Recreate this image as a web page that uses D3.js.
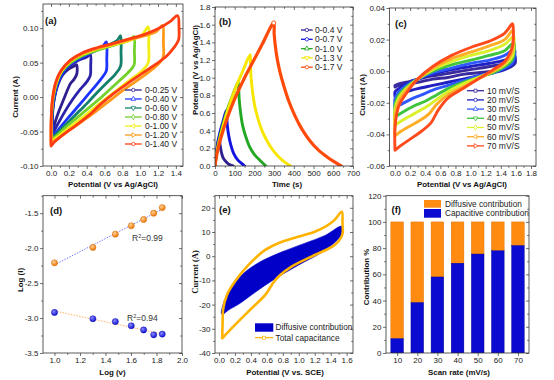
<!DOCTYPE html>
<html><head><meta charset="utf-8">
<script src="https://cdn.jsdelivr.net/npm/d3@7"></script>
<style>body{margin:0;background:#fff}svg{display:block}</style>
</head><body><svg id="c" width="554" height="380"></svg>
<script>
// ---------------- DATA ----------------
// (a) CV at different potential windows [V, A]
const aLabels = ["0-0.25 V","0-0.40 V","0-0.60 V","0-0.80 V","0-1.00 V","0-1.20 V","0-1.40 V"];
const aNavy1 = [[0.02,-0.049],[0.015,-0.030],[0.03,-0.008],[0.07,0.015],[0.13,0.032],[0.20,0.041],[0.26,0.045],[0.285,0.047],[0.29,0.034],[0.26,0.026],[0.22,0.020],[0.19,0.012],[0.14,-0.004],[0.09,-0.020],[0.05,-0.035],[0.021,-0.049]];
const aNavy2 = [[0.02,-0.055],[0.015,-0.030],[0.03,-0.006],[0.07,0.017],[0.13,0.034],[0.22,0.046],[0.32,0.054],[0.40,0.058],[0.44,0.062],[0.445,0.045],[0.44,0.031],[0.40,0.022],[0.32,0.010],[0.24,-0.004],[0.16,-0.020],[0.09,-0.036],[0.04,-0.048],[0.021,-0.055]];
const aBlue = [[0.02,-0.058],[0.012,-0.030],[0.03,-0.005],[0.07,0.018],[0.13,0.035],[0.22,0.048],[0.35,0.058],[0.48,0.066],[0.57,0.072],[0.62,0.080],[0.625,0.055],[0.62,0.038],[0.56,0.026],[0.47,0.012],[0.38,-0.002],[0.28,-0.017],[0.18,-0.032],[0.09,-0.046],[0.021,-0.058]];
const aTeal = [[0.01,-0.060],[0.008,-0.030],[0.025,-0.004],[0.06,0.019],[0.12,0.036],[0.22,0.050],[0.35,0.060],[0.5,0.068],[0.65,0.076],[0.74,0.082],[0.78,0.089],[0.785,0.065],[0.78,0.045],[0.72,0.033],[0.62,0.020],[0.52,0.007],[0.42,-0.007],[0.32,-0.020],[0.22,-0.033],[0.12,-0.046],[0.05,-0.055],[0.011,-0.060]];
const aGreen = [[0.01,-0.062],[0.006,-0.030],[0.022,-0.003],[0.06,0.020],[0.12,0.037],[0.22,0.050],[0.35,0.060],[0.5,0.067],[0.65,0.073],[0.8,0.079],[0.89,0.083],[0.93,0.088],[0.935,0.066],[0.93,0.046],[0.86,0.035],[0.76,0.023],[0.65,0.010],[0.54,-0.003],[0.42,-0.016],[0.30,-0.029],[0.18,-0.042],[0.08,-0.054],[0.011,-0.062]];
const aYellow = [[0.005,-0.064],[0.004,-0.030],[0.02,-0.002],[0.06,0.021],[0.12,0.038],[0.22,0.052],[0.35,0.062],[0.5,0.069],[0.7,0.076],[0.9,0.083],[1.02,0.090],[1.09,0.102],[1.095,0.075],[1.09,0.050],[1.02,0.038],[0.9,0.026],[0.78,0.014],[0.65,0.001],[0.52,-0.012],[0.40,-0.025],[0.28,-0.037],[0.16,-0.049],[0.06,-0.059],[0.006,-0.064]];
const aOrange = [[0.0,-0.067],[0.002,-0.032],[0.018,-0.002],[0.055,0.022],[0.12,0.039],[0.22,0.053],[0.35,0.063],[0.5,0.070],[0.7,0.077],[0.9,0.084],[1.05,0.089],[1.18,0.095],[1.25,0.104],[1.26,0.080],[1.255,0.057],[1.18,0.045],[1.05,0.032],[0.92,0.020],[0.78,0.007],[0.64,-0.007],[0.50,-0.021],[0.36,-0.034],[0.22,-0.047],[0.10,-0.058],[0.001,-0.067]];
const aRed = [[0.0,-0.071],[0.001,-0.035],[0.015,-0.005],[0.05,0.020],[0.11,0.038],[0.22,0.054],[0.35,0.064],[0.5,0.071],[0.7,0.078],[0.9,0.085],[1.05,0.091],[1.2,0.099],[1.33,0.109],[1.42,0.118],[1.435,0.100],[1.43,0.083],[1.38,0.072],[1.30,0.060],[1.18,0.048],[1.03,0.035],[0.86,0.020],[0.70,0.005],[0.55,-0.011],[0.42,-0.027],[0.28,-0.041],[0.14,-0.054],[0.04,-0.065],[0.002,-0.071]];

// (b) GCD curves [time s, V]
const bLabels = ["0-0.4 V","0-0.7 V","0-1.0 V","0-1.3 V","0-1.7 V"];
const bNavy = [[0,0],[8,0.17],[16,0.29],[22,0.34],[23,0.30],[27,0.22],[33,0.15],[42,0.09],[55,0.05],[70,0.02],[92,0]];
const bBlue = [[0,0],[10,0.19],[25,0.38],[40,0.50],[57,0.63],[59,0.57],[63,0.45],[70,0.34],[80,0.24],[95,0.14],[115,0.07],[135,0.03],[150,0]];
const bGreen = [[0,0],[10,0.17],[30,0.38],[60,0.62],[90,0.80],[117,0.95],[120,0.88],[123,0.75],[130,0.60],[140,0.46],[155,0.34],[175,0.22],[200,0.13],[230,0.06],[258,0]];
const bYellow = [[0,0],[10,0.16],[30,0.36],[60,0.60],[100,0.86],[140,1.07],[178,1.26],[180,1.16],[183,1.00],[190,0.85],[200,0.70],[215,0.56],[235,0.42],[260,0.30],[290,0.19],[320,0.11],[355,0.04],[383,0]];
const bRed = [[0,0],[10,0.14],[30,0.32],[60,0.53],[100,0.76],[150,1.00],[200,1.21],[240,1.38],[298,1.62],[300,1.50],[305,1.38],[315,1.22],[330,1.06],[350,0.90],[375,0.73],[405,0.57],[440,0.42],[480,0.29],[525,0.18],[570,0.10],[610,0.04],[640,0]];

// (c) CV at different scan rates [V, A]
const cLabels = ["10 mV/S","20 mV/S","30 mV/S","40 mV/S","50 mV/S","60 mV/S","70 mV/S"];
const c10 = [[0,-0.010],[0.001,-0.009],[0.05,-0.008],[0.15,-0.007],[0.3,-0.005],[0.5,-0.003],[0.75,-0.001],[1.0,0.001],[1.25,0.003],[1.45,0.005],[1.58,0.008],[1.59,0.005],[1.5,0.002],[1.3,0.0],[1.1,-0.001],[0.9,-0.002],[0.7,-0.004],[0.5,-0.005],[0.3,-0.007],[0.15,-0.008],[0.05,-0.009],[0.002,-0.010]];
const c20 = [[0,-0.016],[0.001,-0.013],[0.05,-0.011],[0.15,-0.008],[0.3,-0.005],[0.5,-0.002],[0.75,0.001],[1.0,0.003],[1.25,0.005],[1.45,0.007],[1.58,0.010],[1.59,0.007],[1.55,0.004],[1.45,0.001],[1.3,-0.001],[1.1,-0.003],[0.9,-0.005],[0.7,-0.007],[0.5,-0.009],[0.3,-0.011],[0.15,-0.013],[0.05,-0.015],[0.002,-0.016]];
const c30 = [[0,-0.023],[0.001,-0.017],[0.05,-0.013],[0.15,-0.009],[0.3,-0.005],[0.5,-0.001],[0.75,0.002],[1.0,0.005],[1.25,0.007],[1.45,0.010],[1.58,0.014],[1.585,0.010],[1.55,0.005],[1.45,0.002],[1.3,-0.001],[1.1,-0.003],[0.9,-0.006],[0.7,-0.009],[0.5,-0.012],[0.35,-0.015],[0.2,-0.018],[0.08,-0.021],[0.002,-0.023]];
const c40 = [[0,-0.029],[0.001,-0.021],[0.05,-0.015],[0.15,-0.010],[0.3,-0.005],[0.5,0.0],[0.75,0.004],[1.0,0.007],[1.25,0.010],[1.45,0.013],[1.575,0.018],[1.58,0.014],[1.55,0.007],[1.45,0.003],[1.3,-0.001],[1.1,-0.004],[0.9,-0.007],[0.7,-0.011],[0.55,-0.015],[0.4,-0.019],[0.25,-0.022],[0.1,-0.026],[0.002,-0.029]];
const c50 = [[0,-0.034],[0.001,-0.024],[0.05,-0.017],[0.15,-0.011],[0.3,-0.005],[0.5,0.001],[0.75,0.006],[1.0,0.010],[1.25,0.013],[1.45,0.017],[1.57,0.022],[1.575,0.018],[1.55,0.009],[1.45,0.004],[1.3,0.0],[1.1,-0.004],[0.9,-0.008],[0.7,-0.013],[0.55,-0.018],[0.4,-0.023],[0.25,-0.027],[0.1,-0.031],[0.002,-0.034]];
const c60 = [[0,-0.041],[0.001,-0.028],[0.05,-0.019],[0.15,-0.012],[0.3,-0.005],[0.5,0.002],[0.75,0.008],[1.0,0.012],[1.25,0.016],[1.45,0.020],[1.56,0.026],[1.565,0.022],[1.55,0.012],[1.45,0.005],[1.3,0.0],[1.1,-0.005],[0.9,-0.010],[0.7,-0.015],[0.55,-0.021],[0.45,-0.027],[0.3,-0.032],[0.15,-0.036],[0.05,-0.039],[0.002,-0.041]];
const c70 = [[0,-0.050],[0.001,-0.035],[0.05,-0.022],[0.15,-0.014],[0.3,-0.005],[0.5,0.003],[0.75,0.010],[1.0,0.015],[1.25,0.019],[1.45,0.024],[1.555,0.030],[1.565,0.027],[1.55,0.015],[1.45,0.006],[1.3,0.001],[1.1,-0.005],[0.9,-0.011],[0.7,-0.017],[0.58,-0.024],[0.47,-0.033],[0.35,-0.038],[0.2,-0.043],[0.08,-0.047],[0.002,-0.050]];

// (d) log(I) vs log(v)
const dLogV = [1.0, 1.301, 1.477, 1.602, 1.699, 1.778, 1.845];
const dUpper = [-2.21, -1.99, -1.80, -1.68, -1.59, -1.50, -1.42];
const dLower = [-2.92, -3.01, -3.05, -3.11, -3.17, -3.24, -3.23];
const dR2 = ["0.99", "0.94"];

// (e) Total capacitance loop and diffusive region [V, A]
const eTotal = [[0.04,-33.9],[0.045,-28],[0.054,-21.5],[0.10,-16.0],[0.20,-10.5],[0.37,-3.6],[0.58,2.6],[0.79,6.0],[1.0,8.1],[1.20,10.1],[1.35,12.5],[1.45,15.0],[1.54,18.4],[1.548,14],[1.545,8.8],[1.45,4.6],[1.20,0.5],[0.91,-4.3],[0.76,-8.0],[0.68,-11.0],[0.58,-16.0],[0.41,-21.5],[0.20,-28.4],[0.041,-33.9]];
const eDiffusive = [[0.03,-23.8],[0.055,-19.5],[0.117,-15.0],[0.285,-7.8],[0.49,-2.8],[0.79,1.8],[1.08,5.4],[1.33,8.6],[1.54,12.4],[1.56,10.1],[1.50,7.2],[1.29,1.6],[1.0,-3.6],[0.70,-9.4],[0.45,-15.0],[0.24,-20.0],[0.117,-22.3],[0.05,-24.0]];
const eLabels = ["Diffusive contribution","Total capacitance"];

// (f) contributions
const fScanRates = [10,20,30,40,50,60,70];
const fCapacitive = [11, 38.5, 58, 68.5, 75.5, 78, 82];
const fDiffusive = [89, 61.5, 42, 31.5, 24.5, 22, 18];
const fLabels = ["Diffusive contribution","Capacitive contribution"];

// tick values
const aXT=[0,0.2,0.4,0.6,0.8,1.0,1.2,1.4], aYT=[-0.10,-0.05,0,0.05,0.10];
const bXT=[0,100,200,300,400,500,600,700], bYT=[0,0.2,0.4,0.6,0.8,1.0,1.2,1.4,1.6,1.8];
const cXT=[0,0.2,0.4,0.6,0.8,1.0,1.2,1.4,1.6,1.8], cYT=[-0.06,-0.04,-0.02,0,0.02,0.04];
const dXT=[1.0,1.2,1.4,1.6,1.8,2.0], dYT=[-3.5,-3.0,-2.5,-2.0,-1.5];
const eXT=[0,0.2,0.4,0.6,0.8,1.0,1.2,1.4,1.6], eYT=[-40,-30,-20,-10,0,10,20];
const fYT=[0,20,40,60,80,100,120];

// ---------------- DRAW ----------------
const svg = d3.select("#c");
const FONT = "Arial, 'Liberation Sans', Helvetica, sans-serif";
const defs = svg.append("defs");
const fmt = f => v => d3.format(f)(v).replace("\u2212","-");
const mid = a => a.slice(0,-1).map((v,i)=>(v+a[i+1])/2);

function panel(o){
  const x = d3.scaleLinear().domain(o.xd).range([o.l,o.r]);
  const y = d3.scaleLinear().domain(o.yd).range([o.b,o.t]);
  defs.append("clipPath").attr("id","cl"+o.n).append("rect")
    .attr("x",o.l).attr("y",o.t).attr("width",o.r-o.l).attr("height",o.b-o.t);
  const g = svg.append("g");
  const plot = g.append("g").attr("clip-path",`url(#cl${o.n})`);
  return {g,plot,x,y,o};
}
function style(sel){
  sel.select(".domain").remove();
  sel.selectAll("line").attr("stroke","#333").attr("stroke-width",0.7);
  sel.selectAll("text").attr("font-size","8px").attr("fill","#222").attr("font-family",FONT);
}
function axes(p, c){
  const {g,x,y,o} = p;
  const xm = c.xm || mid(c.xt), ym = c.ym || mid(c.yt);
  const ax = g.append("g");
  ax.append("g").attr("transform",`translate(0,${o.b})`).call(d3.axisBottom(x).tickValues(c.xt).tickSize(3).tickPadding(1.5).tickFormat(c.xf)).call(style);
  ax.append("g").attr("transform",`translate(0,${o.b})`).call(d3.axisBottom(x).tickValues(xm).tickSize(1.8).tickFormat("")).call(style);
  ax.append("g").attr("transform",`translate(${o.l},0)`).call(d3.axisLeft(y).tickValues(c.yt).tickSize(3).tickPadding(1.5).tickFormat(c.yf)).call(style);
  ax.append("g").attr("transform",`translate(${o.l},0)`).call(d3.axisLeft(y).tickValues(ym).tickSize(1.8).tickFormat("")).call(style);
  if(!c.noTop){
    ax.append("g").attr("transform",`translate(0,${o.t})`).call(d3.axisTop(x).tickValues(c.xt).tickSize(-3).tickFormat("")).call(style);
    ax.append("g").attr("transform",`translate(0,${o.t})`).call(d3.axisTop(x).tickValues(xm).tickSize(-1.8).tickFormat("")).call(style);
  }
  ax.append("g").attr("transform",`translate(${o.r},0)`).call(d3.axisRight(y).tickValues(c.yt).tickSize(-3).tickFormat("")).call(style);
  ax.append("g").attr("transform",`translate(${o.r},0)`).call(d3.axisRight(y).tickValues(ym).tickSize(-1.8).tickFormat("")).call(style);
  g.append("rect").attr("x",o.l).attr("y",o.t).attr("width",o.r-o.l).attr("height",o.b-o.t)
    .attr("fill","none").attr("stroke","#333").attr("stroke-width",0.8);
  g.append("text").attr("x",c.xtx).attr("y",c.xty).attr("text-anchor","middle")
    .attr("font-family",FONT).attr("font-weight","bold").attr("font-size","7.9px").attr("fill","#111").text(c.xtitle);
  g.append("text").attr("transform",`translate(${c.ytx},${c.yty}) rotate(-90)`).attr("text-anchor","middle")
    .attr("dy","0.35em").attr("font-family",c.yfont||FONT).attr("font-weight","bold").attr("font-size",c.ysize||"7.9px").attr("fill","#111").text(c.ytitle);
  g.append("text").attr("x",c.lx).attr("y",c.ly).attr("font-family",FONT).attr("font-weight","bold")
    .attr("font-size","9.5px").attr("fill","#111").text(c.label);
}
function curve(p, data, color, w){
  const line = d3.line().x(d=>p.x(d[0])).y(d=>p.y(d[1])).curve(d3.curveCatmullRom.alpha(0.5));
  p.plot.append("path").attr("d",line(data)).attr("fill","none").attr("stroke",color)
    .attr("stroke-width",w||2.8).attr("stroke-linejoin","round").attr("stroke-linecap","round");
}
const symTypes = {c:d3.symbolCircle, tu:d3.symbolTriangle, d:d3.symbolDiamond, s:d3.symbolSquare};
function legend(g, labels, colors, syms, x0, x1, tx, y0, dy){
  labels.forEach((lab,i)=>{
    const yy = y0 + i*dy;
    g.append("line").attr("x1",x0).attr("x2",x1).attr("y1",yy).attr("y2",yy).attr("stroke",colors[i]).attr("stroke-width",1.3);
    const s = syms[i];
    g.append("path").attr("d",d3.symbol().type(symTypes[s[0]]).size(9)())
      .attr("transform",`translate(${(x0+x1)/2},${yy}) rotate(${s[1]||0})`)
      .attr("fill","white").attr("stroke",colors[i]).attr("stroke-width",0.8);
    g.append("text").attr("x",tx).attr("y",yy).attr("dy","0.35em").attr("font-family",FONT)
      .attr("font-size","8.5px").attr("fill","#222").text(lab);
  });
}

// ----- (a)
{
  const p = panel({n:"a",l:43,r:183,t:4,b:166,xd:[-0.09,1.48],yd:[-0.10,0.135]});
  const loops = [aNavy1,aNavy2,aBlue,aTeal,aGreen,aYellow,aOrange,aRed];
  const lc = ["#2d1f8e","#2a22a8","#1c34ff","#12806a","#74d12c","#f3ee16","#ff9a1c","#ff3d12"];
  loops.forEach((d,i)=>curve(p,d,lc[i],2.8));
  axes(p,{xt:aXT,yt:aYT,xm:[0.1,0.3,0.5,0.7,0.9,1.1,1.3],ym:[-0.075,-0.025,0.025,0.075,0.125],xf:fmt(".1f"),yf:fmt(".2f"),
    xtitle:"Potential (V vs Ag/AgCl)",xtx:113,xty:186.5,ytitle:"Current (A)",ytx:15,yty:97,label:"(a)",lx:45,ly:24});
  const legc = ["#2d1f8e","#1c34ff","#12806a","#74d12c","#f3ee16","#ff9a1c","#ff3d12"];
  legend(p.g,aLabels,legc,[["c"],["tu"],["tu",180],["d"],["tu",-90],["tu",90],["c"]],125,141.7,145,90,9);
}
// ----- (b)
{
  const p = panel({n:"b",l:215,r:353,t:7,b:166,xd:[0,700],yd:[0,1.8]});
  const bc = ["#2d1f8e","#1414e0","#22a822","#f7e600","#ff4a0a"];
  [bNavy,bBlue,bGreen,bYellow,bRed].forEach((d,i)=>curve(p,d,bc[i],i==4?3.2:2.9));
  p.plot.append("circle").attr("cx",p.x(bRed[8][0])).attr("cy",p.y(bRed[8][1])).attr("r",2)
    .attr("fill","white").attr("stroke","#ff4a0a").attr("stroke-width",0.9);
  axes(p,{xt:bXT,yt:bYT,xf:fmt("d"),yf:fmt(".1f"),
    xtitle:"Time (s)",xtx:287,xty:186.5,ytitle:"Potential (V vs Ag/AgCl)",ytx:195,yty:70,label:"(b)",lx:219,ly:24.5});
  legend(p.g,bLabels,bc,[["c"],["c"],["tu"],["tu",180],["c"]],301,312.7,315,30,9.3);
}
// ----- (c)
{
  const p = panel({n:"c",l:389.5,r:536,t:8,b:166,xd:[-0.073,1.866],yd:[-0.06,0.04]});
  const cc = ["#3a2b9c","#1f1fc2","#2f57ff","#3fc43f","#d9f02a","#ffac26","#ff4a1c"];
  [c10,c20,c30,c40,c50,c60,c70].forEach((d,i)=>curve(p,d,cc[i],2.9));
  axes(p,{xt:cXT,yt:cYT,xf:fmt(".1f"),yf:fmt(".2f"),
    xtitle:"Potential (V vs Ag/AgCl)",xtx:462,xty:186.5,ytitle:"Current (A)",ytx:362,yty:95,label:"(c)",lx:395,ly:27});
  legend(p.g,cLabels,cc,[["s"],["c"],["tu"],["tu",180],["d"],["tu",-90],["tu",90]],467,484,487,90.7,9.2);
}
// ----- (d)
{
  const p = panel({n:"d",l:43,r:182,t:195.7,b:353,xd:[0.91,2.0],yd:[-3.5,-1.25]});
  const grad = (id,c1,c2)=>{const rg=defs.append("radialGradient").attr("id",id).attr("cx","38%").attr("cy","35%").attr("r","65%");
    rg.append("stop").attr("offset","0%").attr("stop-color",c1); rg.append("stop").attr("offset","100%").attr("stop-color",c2);};
  grad("gOr","#ffd09a","#f07800"); grad("gBl","#8a8aff","#1010d8");
  const fit = ys => { const mx=d3.mean(dLogV), my=d3.mean(ys);
    const m=d3.sum(dLogV,(v,i)=>(v-mx)*(ys[i]-my))/d3.sum(dLogV,v=>(v-mx)**2); return v=>my+m*(v-mx); };
  const fu = fit(dUpper), fl = fit(dLower);
  const x0 = dLogV[0], x1 = dLogV[dLogV.length-1];
  p.plot.append("line").attr("x1",p.x(x0)).attr("x2",p.x(x1)).attr("y1",p.y(fu(x0))).attr("y2",p.y(fu(x1)))
    .attr("stroke","#6f72ff").attr("stroke-width",1).attr("stroke-dasharray","1.4,1.4");
  p.plot.append("line").attr("x1",p.x(x0)).attr("x2",p.x(x1)).attr("y1",p.y(fl(x0))).attr("y2",p.y(fl(x1)))
    .attr("stroke","#ffb060").attr("stroke-width",1).attr("stroke-dasharray","1.4,1.4");
  p.plot.selectAll(".pu").data(dLogV).join("circle").attr("cx",d=>p.x(d)).attr("cy",(d,i)=>p.y(dUpper[i])).attr("r",3.1)
    .attr("fill","url(#gOr)").attr("stroke","#c85f00").attr("stroke-width",0.4);
  p.plot.selectAll(".pl").data(dLogV).join("circle").attr("cx",d=>p.x(d)).attr("cy",(d,i)=>p.y(dLower[i])).attr("r",3.1)
    .attr("fill","url(#gBl)").attr("stroke","#0000a0").attr("stroke-width",0.4);
  const r2 = (xx,yy,val)=>{const t=p.g.append("text").attr("x",xx).attr("y",yy).attr("font-family",FONT).attr("font-size","8.5px").attr("fill","#333");
    t.append("tspan").text("R"); t.append("tspan").attr("dy","-3").attr("font-size","5.5px").text("2"); t.append("tspan").attr("dy","3").text("="+val);};
  r2(132,241,dR2[0]); r2(127,321,dR2[1]);
  axes(p,{xt:dXT,yt:dYT,ym:[-3.25,-2.75,-2.25,-1.75,-1.25],xf:fmt(".1f"),yf:fmt(".1f"),
    xtitle:"Log (v)",xtx:112.5,xty:375,ytitle:"Log (I)",ytx:20,yty:280,label:"(d)",lx:50,ly:214});
}
// ----- (e)
{
  const p = panel({n:"e",l:215,r:353,t:195.7,b:353,xd:[-0.05,1.68],yd:[-40,25]});
  const area = d3.line().x(d=>p.x(d[0])).y(d=>p.y(d[1])).curve(d3.curveCatmullRomClosed.alpha(0.5));
  p.plot.append("path").attr("d",area(eDiffusive)).attr("fill","#0000c8").attr("stroke","#0000c8").attr("stroke-width",0.6);
  curve(p,eTotal,"#ffb300",2.6);
  axes(p,{xt:eXT,yt:eYT,ym:[-35,-25,-15,-5,5,15,25],xf:fmt(".1f"),yf:fmt("d"),
    xtitle:"Potential (V vs. SCE)",xtx:285,xty:375,ytitle:"Current (A)",ytx:195,yty:272,
    yfont:"'Liberation Serif','Times New Roman',serif",ysize:"8.5px",label:"(e)",lx:219,ly:212.5});
  p.g.append("rect").attr("x",255).attr("y",323.3).attr("width",18.3).attr("height",8.4).attr("fill","#0000c8");
  p.g.append("text").attr("x",275.5).attr("y",327.5).attr("dy","0.35em").attr("font-family",FONT).attr("font-size","8.3px").attr("fill","#222").text(eLabels[0]);
  p.g.append("line").attr("x1",255).attr("x2",273.3).attr("y1",337.7).attr("y2",337.7).attr("stroke","#ffb300").attr("stroke-width",1.2);
  p.g.append("rect").attr("x",262.6).attr("y",336.2).attr("width",3).attr("height",3).attr("fill","white").attr("stroke","#ffb300").attr("stroke-width",0.7);
  p.g.append("text").attr("x",275.5).attr("y",337.7).attr("dy","0.35em").attr("font-family",FONT).attr("font-size","8.3px").attr("fill","#222").text(eLabels[1]);
}
// ----- (f)
{
  const p = panel({n:"f",l:386,r:529,t:195.7,b:353,xd:[4.45,75.5],yd:[0,120]});
  const bw = 12.7;
  p.plot.selectAll(".bd").data(fScanRates).join("rect").attr("x",d=>p.x(d)-bw/2).attr("width",bw)
    .attr("y",(d,i)=>p.y(fCapacitive[i]+fDiffusive[i])).attr("height",(d,i)=>p.y(fCapacitive[i])-p.y(fCapacitive[i]+fDiffusive[i]))
    .attr("fill","#ff8c10").attr("stroke","#d86a00").attr("stroke-width",0.4);
  p.plot.selectAll(".bc").data(fScanRates).join("rect").attr("x",d=>p.x(d)-bw/2).attr("width",bw)
    .attr("y",(d,i)=>p.y(fCapacitive[i])).attr("height",(d,i)=>p.y(0)-p.y(fCapacitive[i]))
    .attr("fill","#0a0ad0").attr("stroke","#00008a").attr("stroke-width",0.4);
  axes(p,{xt:fScanRates,xm:[],yt:fYT,ym:[10,30,50,70,90,110],xf:fmt("d"),yf:fmt("d"),noTop:true,
    xtitle:"Scan rate (mV/s)",xtx:459,xty:375,ytitle:"Contribution %",ytx:366.5,yty:277,label:"(f)",lx:391.5,ly:212.5});
  p.g.append("rect").attr("x",424).attr("y",200).attr("width",17).attr("height",7.7).attr("fill","#ff8c10");
  p.g.append("rect").attr("x",424).attr("y",209).attr("width",17).attr("height",8.7).attr("fill","#0a0ad0");
  p.g.append("text").attr("x",445).attr("y",204).attr("dy","0.35em").attr("font-family",FONT).attr("font-size","8.3px").attr("fill","#222").text(fLabels[0]);
  p.g.append("text").attr("x",445).attr("y",213.5).attr("dy","0.35em").attr("font-family",FONT).attr("font-size","8.3px").attr("fill","#222").text(fLabels[1]);
}
</script></body></html>
